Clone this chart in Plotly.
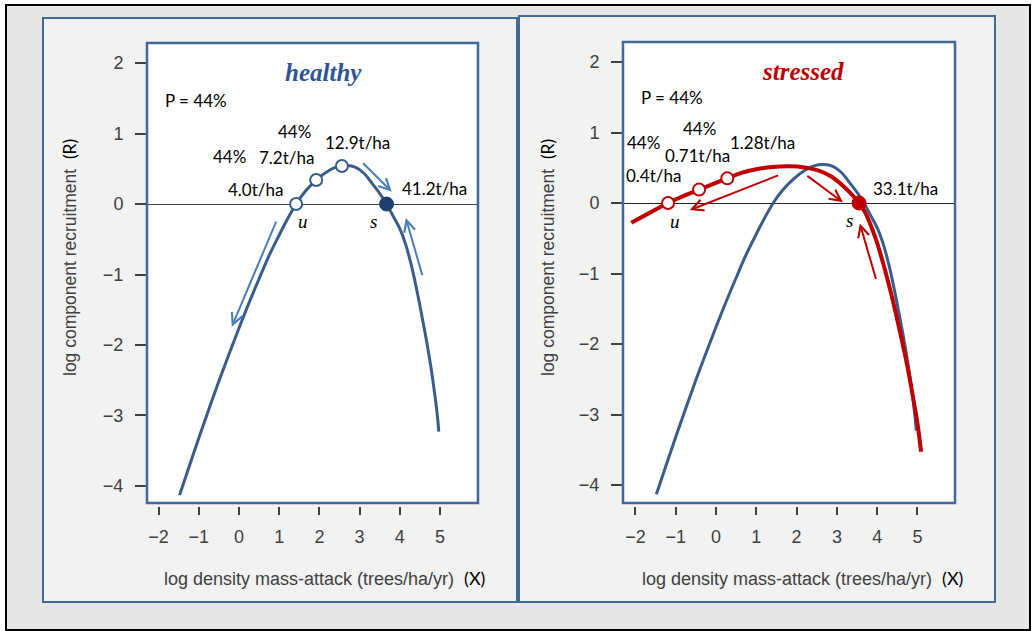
import plotly.graph_objects as go

# ---- data (log scale values) ----
# healthy stand: recruitment curve R(X)
healthy_x = [-1.48, -1.25, -1.00, -0.75, -0.50, -0.25, 0.00, 0.25, 0.50, 0.75, 1.00, 1.20,
             1.42, 1.65, 1.92, 2.20, 2.45, 2.68, 2.90, 3.10, 3.30, 3.50, 3.67, 3.85,
             4.00, 4.15, 4.30, 4.44, 4.56, 4.67, 4.77, 4.86, 4.93, 4.97]
healthy_r = [-4.13, -3.74, -3.32, -2.91, -2.51, -2.13, -1.76, -1.40, -1.06, -0.73, -0.44, -0.22,
             0.00, 0.18, 0.34, 0.46, 0.53, 0.545, 0.52, 0.44, 0.30, 0.15, 0.00, -0.19,
             -0.35, -0.58, -0.90, -1.27, -1.62, -1.96, -2.30, -2.66, -2.98, -3.23]

# stressed stand: recruitment curve R(X)
stressed_x = [-2.10, -1.65, -1.19, -0.80, -0.42, -0.07, 0.28, 0.65, 1.00, 1.40, 1.80, 2.20,
              2.55, 2.85, 3.10, 3.32, 3.55, 3.70, 3.85, 4.00, 4.13, 4.25, 4.37, 4.48,
              4.59, 4.70, 4.80, 4.90, 5.00, 5.09]
stressed_r = [-0.28, -0.14, 0.00, 0.10, 0.19, 0.27, 0.35, 0.43, 0.48, 0.51, 0.52, 0.505,
              0.46, 0.38, 0.27, 0.15, 0.00, -0.13, -0.33, -0.57, -0.82, -1.07, -1.34, -1.61,
              -1.89, -2.18, -2.47, -2.79, -3.13, -3.53]

# unstable / intermediate points (open) and stable point (filled)
healthy_open_x = [1.42, 1.92, 2.56]
healthy_open_r = [0.0, 0.34, 0.54]
healthy_stable_x = [3.67]
healthy_stable_r = [0.0]

stressed_open_x = [-1.19, -0.42, 0.28]
stressed_open_r = [0.0, 0.19, 0.35]
stressed_stable_x = [3.55]
stressed_stable_r = [0.0]

healthy_labels = ["4.0t/ha", "7.2t/ha", "12.9t/ha", "41.2t/ha"]
stressed_labels = ["0.4t/ha", "0.71t/ha", "1.28t/ha", "33.1t/ha"]
p_label = "P = 44%"
pct_label = "44%"

x_ticks = [-2, -1, 0, 1, 2, 3, 4, 5]
y_ticks = [2, 1, 0, -1, -2, -3, -4]

# direction arrows: (tail_x, tail_r, head_x, head_r)
healthy_arrows = [(0.94, -0.23, -0.18, -1.74), (3.05, 0.60, 3.80, 0.175), (4.57, -1.03, 4.15, -0.20)]
stressed_arrows = [(1.58, 0.40, -0.65, -0.10), (2.23, 0.40, 3.15, 0.01), (3.98, -1.10, 3.57, -0.29)]

# ---- styling ----
W, H = 1033, 631
BLUE = "#385d8a"
BLUE_DARK = "#203f6e"
BLUE_ARROW = "#4a7ebb"
RED = "#c00000"
FRAME = "#41689a"
TICK_GRAY = "#404040"
LABEL_FONT = "Lato, 'Open Sans', sans-serif"
AXIS_FONT = "'Liberation Sans', Arial, sans-serif"
SERIF = "'Liberation Serif', 'Times New Roman', serif"


def fx(px):
    return px / W


def fy(py):
    return 1 - py / H


fig = go.Figure()

# curves
fig.add_trace(go.Scatter(x=healthy_x, y=healthy_r, mode="lines", line=dict(color=BLUE, width=3, shape="spline"),
                         xaxis="x", yaxis="y", hoverinfo="skip"))
fig.add_trace(go.Scatter(x=healthy_x, y=healthy_r, mode="lines", line=dict(color=BLUE, width=3, shape="spline"),
                         xaxis="x2", yaxis="y2", hoverinfo="skip"))
fig.add_trace(go.Scatter(x=stressed_x, y=stressed_r, mode="lines", line=dict(color=RED, width=4, shape="spline"),
                         xaxis="x2", yaxis="y2", hoverinfo="skip"))

# equilibrium markers
fig.add_trace(go.Scatter(x=healthy_open_x, y=healthy_open_r, mode="markers",
                         marker=dict(size=12, color="white", line=dict(color=BLUE, width=2)),
                         xaxis="x", yaxis="y", hoverinfo="skip"))
fig.add_trace(go.Scatter(x=healthy_stable_x, y=healthy_stable_r, mode="markers",
                         marker=dict(size=14, color=BLUE_DARK, line=dict(color=BLUE_DARK, width=1)),
                         xaxis="x", yaxis="y", hoverinfo="skip"))
fig.add_trace(go.Scatter(x=stressed_open_x, y=stressed_open_r, mode="markers",
                         marker=dict(size=12, color="white", line=dict(color=RED, width=2)),
                         xaxis="x2", yaxis="y2", hoverinfo="skip"))
fig.add_trace(go.Scatter(x=stressed_stable_x, y=stressed_stable_r, mode="markers",
                         marker=dict(size=14, color=RED, line=dict(color=RED, width=1)),
                         xaxis="x2", yaxis="y2", hoverinfo="skip"))

# ---- background boxes ----
shapes = [
    # outer frame
    dict(type="rect", xref="paper", yref="paper", x0=fx(6), x1=fx(1030), y0=fy(630), y1=fy(5),
         line=dict(color="black", width=2), fillcolor="#e6e6e6", layer="below"),
    # panels
    dict(type="rect", xref="paper", yref="paper", x0=fx(43), x1=fx(517), y0=fy(602), y1=fy(18),
         line=dict(color=FRAME, width=2), fillcolor="#f2f2f2", layer="below"),
    dict(type="rect", xref="paper", yref="paper", x0=fx(519), x1=fx(995), y0=fy(602), y1=fy(16),
         line=dict(color=FRAME, width=2), fillcolor="#f2f2f2", layer="below"),
    # plot areas
    dict(type="rect", xref="paper", yref="paper", x0=fx(147), x1=fx(478), y0=fy(503), y1=fy(43),
         line=dict(width=0), fillcolor="white", layer="below"),
    dict(type="rect", xref="paper", yref="paper", x0=fx(623), x1=fx(955), y0=fy(503), y1=fy(42),
         line=dict(width=0), fillcolor="white", layer="below"),
    # plot frames
    dict(type="rect", xref="paper", yref="paper", x0=fx(147), x1=fx(478), y0=fy(503), y1=fy(43),
         line=dict(color=FRAME, width=2.5), fillcolor="rgba(0,0,0,0)", layer="above"),
    dict(type="rect", xref="paper", yref="paper", x0=fx(623), x1=fx(955), y0=fy(503), y1=fy(42),
         line=dict(color=FRAME, width=2.5), fillcolor="rgba(0,0,0,0)", layer="above"),
]

annotations = []


def text(x, y, s, xref, yref, size=17, color="black", family=LABEL_FONT, xanchor="center", **kw):
    annotations.append(dict(x=x, y=y, xref=xref, yref=yref, text=s, showarrow=False,
                            font=dict(size=size, color=color, family=family),
                            xanchor=xanchor, yanchor="middle", **kw))


def arrow(seg, xref, yref, color):
    tx, tr, hx, hr = seg
    annotations.append(dict(x=hx, y=hr, ax=tx, ay=tr, xref=xref, yref=yref, axref=xref, ayref=yref,
                            text="", showarrow=True, arrowhead=5, arrowsize=1.1, arrowwidth=2,
                            arrowcolor=color, standoff=0, startstandoff=0))


# healthy panel texts
text(2.09, 1.86, "<b><i>healthy</i></b>", "x", "y", size=25, color="#2f5496", family=SERIF)
text(-1.90, 1.475, p_label, "x", "y", xanchor="left")
text(1.38, 1.03, pct_label, "x", "y")
text(-0.24, 0.67, pct_label, "x", "y")
text(0.40, 0.199, healthy_labels[0], "x", "y")
text(1.19, 0.657, healthy_labels[1], "x", "y")
text(2.94, 0.87, healthy_labels[2], "x", "y")
text(4.86, 0.213, healthy_labels[3], "x", "y")
text(1.585, -0.25, "<i>u</i>", "x", "y", size=19, family=SERIF)
text(3.34, -0.25, "<i>s</i>", "x", "y", size=19, family=SERIF)

# stressed panel texts
text(2.15, 1.862, "<b><i>stressed</i></b>", "x2", "y2", size=25, color=RED, family=SERIF)
text(-1.91, 1.494, p_label, "x2", "y2", xanchor="left")
text(-0.40, 1.06, pct_label, "x2", "y2")
text(-1.79, 0.861, pct_label, "x2", "y2")
text(-1.55, 0.397, stressed_labels[0], "x2", "y2")
text(-0.47, 0.68, stressed_labels[1], "x2", "y2")
text(1.16, 0.861, stressed_labels[2], "x2", "y2")
text(4.71, 0.209, stressed_labels[3], "x2", "y2")
text(-1.02, -0.265, "<i>u</i>", "x2", "y2", size=19, family=SERIF)
text(3.31, -0.241, "<i>s</i>", "x2", "y2", size=19, family=SERIF)

for seg in healthy_arrows:
    arrow(seg, "x", "y", BLUE_ARROW)
for seg in stressed_arrows:
    arrow(seg, "x2", "y2", RED)

# axis titles
y_title = ("log component recruitment&nbsp;&nbsp;"
           "<span style=\"color:#000000;font-family:Lato\">(R)</span>")
x_title = ("log density mass-attack (trees/ha/yr)&nbsp;&nbsp;"
           "<span style=\"color:#000000;font-family:Lato\">(X)</span>")
for cx in (70, 548):
    text(fx(cx), fy(258), y_title, "paper", "paper", size=17.5, color=TICK_GRAY, family=AXIS_FONT,
         textangle=-90)
for cx in (324, 802):
    text(fx(cx), fy(578), x_title, "paper", "paper", size=18, color=TICK_GRAY, family=AXIS_FONT)

axis_common = dict(showgrid=False, showline=False, ticks="outside", tickcolor=TICK_GRAY,
                   tickwidth=1.5, tickfont=dict(size=18, color=TICK_GRAY, family=AXIS_FONT),
                   fixedrange=True)

fig.update_layout(
    width=W, height=H, autosize=False,
    margin=dict(l=0, r=0, t=0, b=0),
    paper_bgcolor="white", plot_bgcolor="rgba(0,0,0,0)",
    showlegend=False,
    shapes=shapes, annotations=annotations,
    xaxis=dict(domain=[fx(147), fx(478)], range=[-2.289, 5.945], anchor="y",
               tickvals=x_ticks, ticklen=8, zeroline=False, ticklabelstandoff=6, **axis_common),
    yaxis=dict(domain=[fy(506), fy(43)], range=[-4.284, 2.284], anchor="x",
               tickvals=y_ticks, ticklen=11, zeroline=True, zerolinecolor="#404040", zerolinewidth=1,
               ticklabelstandoff=8, **axis_common),
    xaxis2=dict(domain=[fx(623), fx(955)], range=[-2.308, 5.931], anchor="y2",
                tickvals=x_ticks, ticklen=8, zeroline=False, ticklabelstandoff=6, **axis_common),
    yaxis2=dict(domain=[fy(506), fy(42)], range=[-4.298, 2.284], anchor="x2",
                tickvals=y_ticks, ticklen=11, zeroline=True, zerolinecolor="#202020", zerolinewidth=1,
                ticklabelstandoff=8, **axis_common),
)

fig.write_html("out.html")
